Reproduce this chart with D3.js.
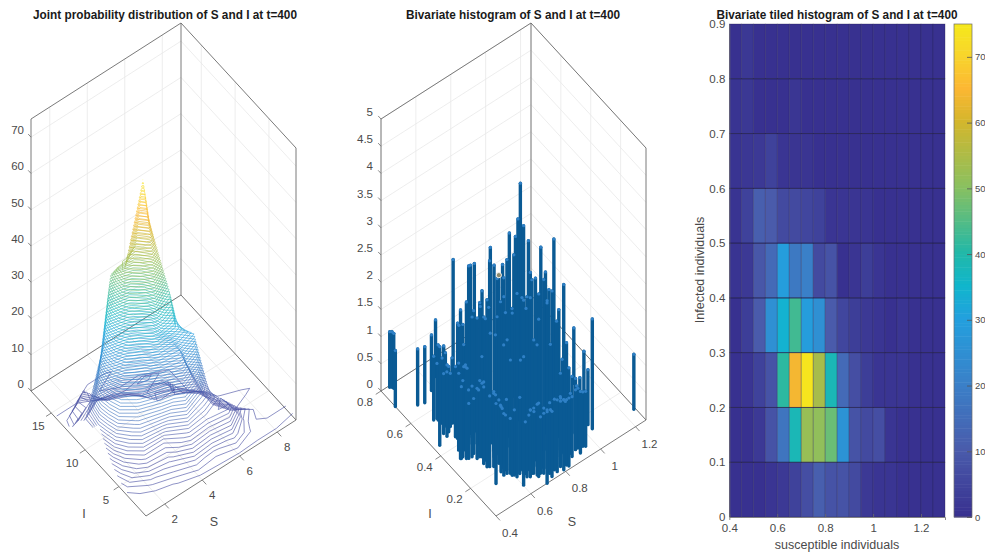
<!DOCTYPE html>
<html>
<head>
<meta charset="utf-8">
<script src="https://cdn.jsdelivr.net/npm/d3@7"></script>
<style>
	html, body { margin: 0; padding: 0; background: #fff; overflow: hidden; }
	text { font-family: "Liberation Sans", Arial, sans-serif; }
</style>
</head>
<body>
<svg id="chart" width="985" height="554"></svg>
<script>
// bin edges of the tiled histogram
var sEdges = [0.4, 0.45, 0.5, 0.55, 0.6, 0.65, 0.7, 0.75, 0.8, 0.85, 0.9, 0.95, 1, 1.05, 1.1, 1.15, 1.2, 1.25, 1.3];
var iEdges = [0, 0.1, 0.2, 0.3, 0.4, 0.5, 0.6, 0.7, 0.8, 0.9];

// counts per I bin (bottom row first), one value per S bin
var counts = [
	[0, 0, 0, 1, 2, 4, 7, 11, 8, 8, 6, 2, 1, 1, 0, 0, 0, 0],
	[0, 0, 2, 8, 17, 38, 52, 51, 47, 26, 8, 6, 7, 1, 0, 0, 0, 0],
	[0, 1, 4, 8, 41, 64, 74, 54, 38, 14, 7, 3, 1, 1, 1, 0, 0, 0],
	[0, 3, 10, 25, 34, 43, 29, 25, 10, 5, 3, 2, 1, 0, 1, 0, 0, 0],
	[0.6, 2, 9, 14, 29, 18, 20, 6, 8, 0, 1, 3, 1, 0, 0, 0, 0, 0],
	[0.7, 4, 11, 10, 6, 6, 5, 4, 1, 1, 1, 1, 0, 0, 0, 0, 0, 0],
	[0.7, 1.5, 2, 4, 1, 0.9, 0.9, 0, 0, 0, 0, 0, 0, 0, 0, 0, 0, 0],
	[0.7, 1.6, 0, 0, 0, 1.2, 0, 0, 0, 0, 0, 0, 0, 0, 0, 0, 0, 0],
	[0, 1.6, 0, 0, 0, 0, 0, 0, 0, 0, 0, 0, 0, 0, 0, 0, 0, 0]
];

// stems of the middle plot
var stemS = [.444,.452,.455,.40,.486,.519,.584,.645,1.252,1.037,1.121,.494,.51,.432,.519,.488,.555,.519,.463,.484,.543,.582,.602,.523,.508,.558,.517,.532,.513,.466,.546,.547,.531,.621,.641,.59,.508,.556,.585,.621,.581,.712,.712,.799,.919,.797,.77,.793,.862,.854,.909,.833,.867,.792,.729,.671,.564,.594,.606,.602,.642,.693,.685,.654,.768,.733,.829,.798,.907,.914,.955,.945,.993,1.035,.93,.927,.944,.83,.877,.654,.651,.647,.671,.756,.757,.664,.641,.605,.611,.591,.586,.593,.647,.688,.743,.702,.853,.852,.597,.519,.511,.573,.602,.493,.527,.604,.891,.95,.618,
	.485,.509,.484,.477,.51,.538,.53,.541,.565,.59,.602,.627,.678,.685,.714,.735,.764,.797,.824,.872,.921,.945,
	.541,.55,.574,.555,.577,.616,.619,.615,.668,.658,.676,.677,.713,.728,.743,.774,.804,.805,.85,.87,.963,
	.694,.736,.803,.862,.899,.93,.938,.813,
	.62,.615,.599,.589,.673,.703,.733,.769,.844,.85,.559,.611,.575,.61,.539];
var stemI = [.793,.787,.779,.704,.655,.646,.677,.721,.102,.129,.351,.557,.546,.444,.508,.461,.498,.426,.341,.326,.38,.414,.411,.30,.362,.431,.438,.49,.523,.339,.295,.273,.243,.326,.354,.265,.156,.227,.227,.244,.168,.305,.264,.349,.473,.309,.245,.189,.182,.229,.171,.182,.2,.168,.15,.106,.169,.148,.13,.081,.105,.03,.077,.097,.05,.044,.043,.041,.09,.065,.078,.105,.134,.156,.177,.158,.126,.101,.089,.365,.327,.267,.272,.193,.172,.153,.148,.173,.292,.223,.195,.16,.122,.136,.088,.085,.106,.127,.476,.498,.555,.359,.348,.321,.328,.462,.183,.163,.39,
	.48,.474,.378,.342,.319,.30,.264,.237,.189,.182,.143,.136,.102,.087,.077,.062,.064,.062,.053,.072,.09,.085,
	.545,.499,.482,.433,.397,.391,.368,.33,.336,.301,.289,.246,.222,.212,.201,.181,.16,.139,.15,.136,.155,
	.523,.516,.449,.45,.383,.363,.316,.505,
	.29,.262,.221,.187,.129,.13,.099,.096,.116,.091,.465,.481,.351,.369,.376];
var stemZ = [1.02,1.02,1.01,1.03,1.03,1.03,1.02,1.04,1.01,2.02,1.02,1.17,1.38,1.81,1.33,1.31,3.0,2.12,2.73,2.88,3.26,3.09,3.09,2.58,1.53,1.63,1.29,.98,1.2,1.32,1.84,2.6,3.07,3.6,3.23,3.52,1.47,1.38,3.46,3.53,3.93,3.74,3.8,3.69,3.73,3.69,3.66,3.66,3.69,2.96,2.79,2.82,2.67,3.13,3.34,3.56,3.28,2.98,3.37,3.4,3.31,1.35,1.35,1.23,1.32,1.2,1.25,1.29,1.1,1.13,1.01,1.2,1.5,1.01,1.66,1.26,.99,1.53,1.1,1.84,1.93,1.93,1.96,2.02,1.99,2.02,2.02,2.02,1.04,1.07,1.01,1.01,.95,1.04,1.04,1.04,.98,.98,1.01,1.01,1.01,1.01,1.01,1.01,1.01,1.01,2.33,1.04,2.33,
	1.1,1.2,1.6,1.4,1.3,1.4,1.5,1.3,1.2,1.3,1.2,1.4,1.2,1.3,1.2,1.3,1.3,1.2,1.2,1.1,1.1,1.0,
	1.3,1.2,1.8,2.0,2.2,2.4,2.2,2.5,2.2,2.6,2.4,2.6,2.8,2.6,2.8,2.4,2.7,2.0,2.3,1.6,1.0,
	1.7,2.0,2.3,2.6,2.4,2.0,2.0,2.1,
	1,1,1,1,1,1,1,1,1,1,1,1,1,1,1];
var tipIndex = 38;

// tick labels
var contourSTicks = [2, 4, 6, 8];
var contourITicks = [5, 10, 15];
var contourZTicks = [0, 10, 20, 30, 40, 50, 60, 70];
var stemSTicks = [0.4, 0.6, 0.8, 1, 1.2];
var stemITicks = [0.2, 0.4, 0.6, 0.8];
var stemZTicks = [0, 0.5, 1, 1.5, 2, 2.5, 3, 3.5, 4, 4.5, 5];
var tileXTicks = [0.4, 0.6, 0.8, 1, 1.2];
var tileYTicks = [0, 0.1, 0.2, 0.3, 0.4, 0.5, 0.6, 0.7, 0.8, 0.9];
var barTicks = [0, 10, 20, 30, 40, 50, 60, 70];

var colorStops = [0, 10, 20, 30, 35, 40, 50, 60, 65, 70, 75];
var colorValues = ["#383190", "#4a5bab", "#3a80c8", "#23a0de", "#10b6cc", "#22b8a8", "#89c060", "#d4b62c", "#fcb733", "#f8d52c", "#f5e91a"];
var parula = d3.scaleLinear().domain(colorStops).range(colorValues).clamp(true);

var svg = d3.select("#chart");
var textColor = "#4a4a4a";

// affine oblique view of a 3D box, same layout for both left plots
function makeBox(g, left, sDomain, iDomain, zDomain) {
	var box = {};
	var aScale = d3.scaleLinear().domain(sDomain).range([0, 1]);
	var bScale = d3.scaleLinear().domain(iDomain).range([0, 1]);
	var zScale = d3.scaleLinear().domain(zDomain).range([0, 272]);
	var fx = left + 115, fy = 516;
	box.sDomain = sDomain;
	box.iDomain = iDomain;
	box.zDomain = zDomain;
	box.project = function(s, i, z) {
		var a = aScale(s), b = bScale(i);
		return [fx + a * 150 - b * 115, fy - a * 96 - b * 125 - zScale(z)];
	};
	box.g = g;
	return box;
}

function seg(g, box, p, q, color, width) {
	var a = box.project(p[0], p[1], p[2]);
	var b = box.project(q[0], q[1], q[2]);
	g.append("line")
		.attr("x1", a[0]).attr("y1", a[1])
		.attr("x2", b[0]).attr("y2", b[1])
		.attr("stroke", color)
		.attr("stroke-width", width);
}

function drawBox(box, sTicks, iTicks, zTicks, sLabelOffset, iLabelOffset, zLabelX, labels) {
	var g = box.g;
	var s0 = box.sDomain[0], s1 = box.sDomain[1];
	var i0 = box.iDomain[0], i1 = box.iDomain[1];
	var z1 = box.zDomain[1];
	var gridColor = "#e8e8e8", lineColor = "#6b6b6b";

	sTicks.forEach(function(s) {
		seg(g, box, [s, i0, 0], [s, i1, 0], gridColor, 0.8);
		seg(g, box, [s, i1, 0], [s, i1, z1], gridColor, 0.8);
	});
	iTicks.forEach(function(i) {
		seg(g, box, [s0, i, 0], [s1, i, 0], gridColor, 0.8);
		seg(g, box, [s1, i, 0], [s1, i, z1], gridColor, 0.8);
	});
	zTicks.forEach(function(z) {
		seg(g, box, [s0, i1, z], [s1, i1, z], gridColor, 0.8);
		seg(g, box, [s1, i1, z], [s1, i0, z], gridColor, 0.8);
	});

	// box edges
	[
		[[s0, i1, 0], [s0, i1, z1]], [[s1, i1, 0], [s1, i1, z1]], [[s1, i0, 0], [s1, i0, z1]],
		[[s0, i1, z1], [s1, i1, z1]], [[s1, i1, z1], [s1, i0, z1]],
		[[s0, i1, 0], [s1, i1, 0]], [[s1, i1, 0], [s1, i0, 0]],
		[[s0, i0, 0], [s0, i1, 0]], [[s0, i0, 0], [s1, i0, 0]]
	].forEach(function(e) {
		seg(g, box, e[0], e[1], lineColor, 0.9);
	});

	// ticks and their labels
	var sPad = (s1 - s0) * 0.035, iPad = (i1 - i0) * 0.035;
	sTicks.forEach(function(s) {
		seg(g, box, [s, i0, 0], [s, i0 - iPad, 0], lineColor, 0.8);
		var p = box.project(s, i0, 0);
		g.append("text").text(s).attr("x", p[0] + sLabelOffset[0]).attr("y", p[1] + sLabelOffset[1])
			.attr("text-anchor", "middle").attr("dy", "0.35em").attr("font-size", 11.5).attr("fill", textColor);
	});
	iTicks.forEach(function(i) {
		seg(g, box, [s0, i, 0], [s0 - sPad, i, 0], lineColor, 0.8);
		var p = box.project(s0, i, 0);
		g.append("text").text(i).attr("x", p[0] + iLabelOffset[0]).attr("y", p[1] + iLabelOffset[1])
			.attr("text-anchor", "middle").attr("dy", "0.35em").attr("font-size", 11.5).attr("fill", textColor);
	});
	zTicks.forEach(function(z) {
		seg(g, box, [s0, i1, z], [s0, i1 + iPad * 0.7, z], lineColor, 0.8);
		var p = box.project(s0, i1, z);
		g.append("text").text(z).attr("x", zLabelX).attr("y", p[1] - 7)
			.attr("text-anchor", "end").attr("dy", "0.35em").attr("font-size", 11.5).attr("fill", textColor);
	});

	labels.forEach(function(d) {
		g.append("text").text(d[0]).attr("x", d[1]).attr("y", d[2])
			.attr("text-anchor", "middle").attr("dy", "0.35em").attr("font-size", 12.5).attr("fill", textColor);
	});
}

function title(text, x, width) {
	svg.append("text").text(text)
		.attr("x", x).attr("y", 19)
		.attr("text-anchor", "middle")
		.attr("font-size", 12)
		.attr("font-weight", "bold")
		.attr("textLength", width)
		.attr("lengthAdjust", "spacingAndGlyphs")
		.attr("fill", "#1a1a1a");
}

// ---- left: contour lines of the counts, seen in 3D
var g1 = svg.append("g");
var box1 = makeBox(g1, 31, [1, 9], [1, 18], [0, 75]);
drawBox(box1, contourSTicks, contourITicks, contourZTicks, [10, 15], [-13, 13], 24,
	[["I", 84, 514], ["S", 214, 522]]);

var nx = counts.length, ny = counts[0].length;
var flat = [];
for (var y = 0; y < ny; y++) {
	for (var x = 0; x < nx; x++) {
		flat.push(counts[x][y]);
	}
}
var levels = d3.range(0.8, 74, 0.85);
var contours = d3.contours().size([nx, ny]).smooth(true).thresholds(levels)(flat);

contours.forEach(function(c) {
	var path = d3.path();
	c.coordinates.forEach(function(polygon) {
		polygon.forEach(function(ring) {
			var prev = null;
			ring.forEach(function(pt) {
				var sv = Math.max(1, Math.min(nx, pt[0] + 0.5));
				var iv = Math.max(1, Math.min(ny, pt[1] + 0.5));
				var cur = [sv, iv];
				if (prev) {
					var onEdge = (prev[0] === sv && (sv === 1 || sv === nx)) || (prev[1] === iv && (iv === 1 || iv === ny));
					if (!onEdge) {
						var a = box1.project(prev[0], prev[1], c.value);
						var b = box1.project(sv, iv, c.value);
						path.moveTo(a[0], a[1]);
						path.lineTo(b[0], b[1]);
					}
				}
				prev = cur;
			});
		});
	});
	g1.append("path")
		.attr("d", path.toString())
		.attr("fill", "none")
		.attr("stroke", c.value < 6 ? parula(6) : parula(c.value))
		.attr("stroke-width", 0.6);
});
title("Joint probability distribution of S and I at t=400", 165, 264);

// ---- middle: stems
var g2 = svg.append("g");
var box2 = makeBox(g2, 381, [0.4, 1.26], [0.03, 0.8], [0, 5]);
drawBox(box2, stemSTicks, stemITicks, stemZTicks, [14, 17], [-16, 11], 373,
	[["I", 430, 514], ["S", 572, 522]]);

var stems = stemS.map(function(s, k) {
	return { s: s, i: stemI[k], z: stemZ[k], base: box2.project(s, stemI[k], 0), top: box2.project(s, stemI[k], stemZ[k]) };
});
var tip = stems[tipIndex];
stems.sort(function(a, b) { return d3.ascending(a.base[1], b.base[1]); });

g2.selectAll("line.stem").data(stems).join("line")
	.attr("class", "stem")
	.attr("x1", function(d) { return d.base[0]; })
	.attr("y1", function(d) { return d.base[1]; })
	.attr("x2", function(d) { return d.top[0]; })
	.attr("y2", function(d) { return d.top[1]; })
	.attr("stroke", "#0a5a94")
	.attr("stroke-width", 3.4)
	.attr("stroke-linecap", "round");
g2.selectAll("circle.top").data(stems).join("circle")
	.attr("class", "top")
	.attr("cx", function(d) { return d.top[0]; })
	.attr("cy", function(d) { return d.top[1]; })
	.attr("r", 1.6)
	.attr("fill", "#2f80c6");
g2.append("circle")
	.attr("cx", tip.top[0]).attr("cy", tip.top[1])
	.attr("r", 2.6)
	.attr("fill", "#8d8a6c")
	.attr("stroke", "#f2f2f2")
	.attr("stroke-width", 1);
title("Bivariate histogram of S and I at t=400", 513, 214);

// ---- right: tiled histogram and colorbar
var xTile = d3.scaleLinear().domain([0.4, 1.3]).range([729.3, 945]);
var yTile = d3.scaleLinear().domain([0, 0.9]).range([517, 24]);
var g3 = svg.append("g");

var cells = [];
counts.forEach(function(row, r) {
	row.forEach(function(v, c) {
		cells.push({ r: r, c: c, v: v });
	});
});
g3.selectAll("rect.cell").data(cells).join("rect")
	.attr("class", "cell")
	.attr("x", function(d) { return xTile(sEdges[d.c]); })
	.attr("y", function(d) { return yTile(iEdges[d.r + 1]); })
	.attr("width", function(d) { return xTile(sEdges[d.c + 1]) - xTile(sEdges[d.c]); })
	.attr("height", function(d) { return yTile(iEdges[d.r]) - yTile(iEdges[d.r + 1]); })
	.attr("fill", function(d) { return parula(d.v); })
	.attr("stroke", "#24204f")
	.attr("stroke-opacity", 0.55)
	.attr("stroke-width", 0.6);
g3.selectAll("line.rowline").data(iEdges.slice(1, -1)).join("line")
	.attr("class", "rowline")
	.attr("x1", 729.3).attr("x2", 945)
	.attr("y1", function(d) { return yTile(d); })
	.attr("y2", function(d) { return yTile(d); })
	.attr("stroke", "#1d1a45")
	.attr("stroke-opacity", 0.75)
	.attr("stroke-width", 0.8);

var xAxis = d3.axisBottom(xTile).tickValues(tileXTicks).tickSize(3).tickFormat(d3.format("~g"));
var yAxis = d3.axisLeft(yTile).tickValues(tileYTicks).tickSize(0).tickPadding(4).tickFormat(d3.format("~g"));
var gx = g3.append("g").attr("transform", "translate(0,517)").call(xAxis);
var gy = g3.append("g").attr("transform", "translate(729.3,0)").call(yAxis);
[gx, gy].forEach(function(a) {
	a.selectAll("text").attr("font-size", 11.5).attr("font-family", "Liberation Sans").attr("fill", textColor);
	a.selectAll("path,line").attr("stroke", "#6b6b6b").attr("stroke-width", 0.8);
});
gx.selectAll("line").attr("y2", -3);
gx.selectAll("text").attr("y", 7);

g3.append("text").text("susceptible individuals")
	.attr("x", 837).attr("y", 549).attr("text-anchor", "middle").attr("font-size", 12.5).attr("fill", textColor);
g3.append("text").text("Infected individuals")
	.attr("transform", "translate(704,270) rotate(-90)")
	.attr("text-anchor", "middle").attr("font-size", 12.5).attr("fill", textColor);
title("Bivariate tiled histogram of S and I at t=400", 837, 241);

// colorbar drawn as thin strips
var yBar = d3.scaleLinear().domain([0, 75]).range([517, 24]);
var barSteps = d3.range(0, 75, 0.5);
g3.selectAll("rect.bar").data(barSteps).join("rect")
	.attr("class", "bar")
	.attr("x", 954).attr("width", 18)
	.attr("y", function(d) { return yBar(d + 0.5); })
	.attr("height", function(d) { return yBar(d) - yBar(d + 0.5) + 0.5; })
	.attr("fill", function(d) { return parula(d); });
g3.append("rect").attr("x", 954).attr("y", 24).attr("width", 18).attr("height", 493)
	.attr("fill", "none").attr("stroke", "#6b6b6b").attr("stroke-width", 0.7);
var barAxis = d3.axisRight(yBar).tickValues(barTicks).tickSize(-5).tickPadding(3);
var gb = g3.append("g").attr("transform", "translate(972,0)").call(barAxis);
gb.select("path").remove();
gb.selectAll("line").attr("stroke", "#555").attr("stroke-width", 0.8);
gb.selectAll("text").attr("font-size", 9.5).attr("font-family", "Liberation Sans").attr("fill", textColor);
</script>
</body>
</html>
